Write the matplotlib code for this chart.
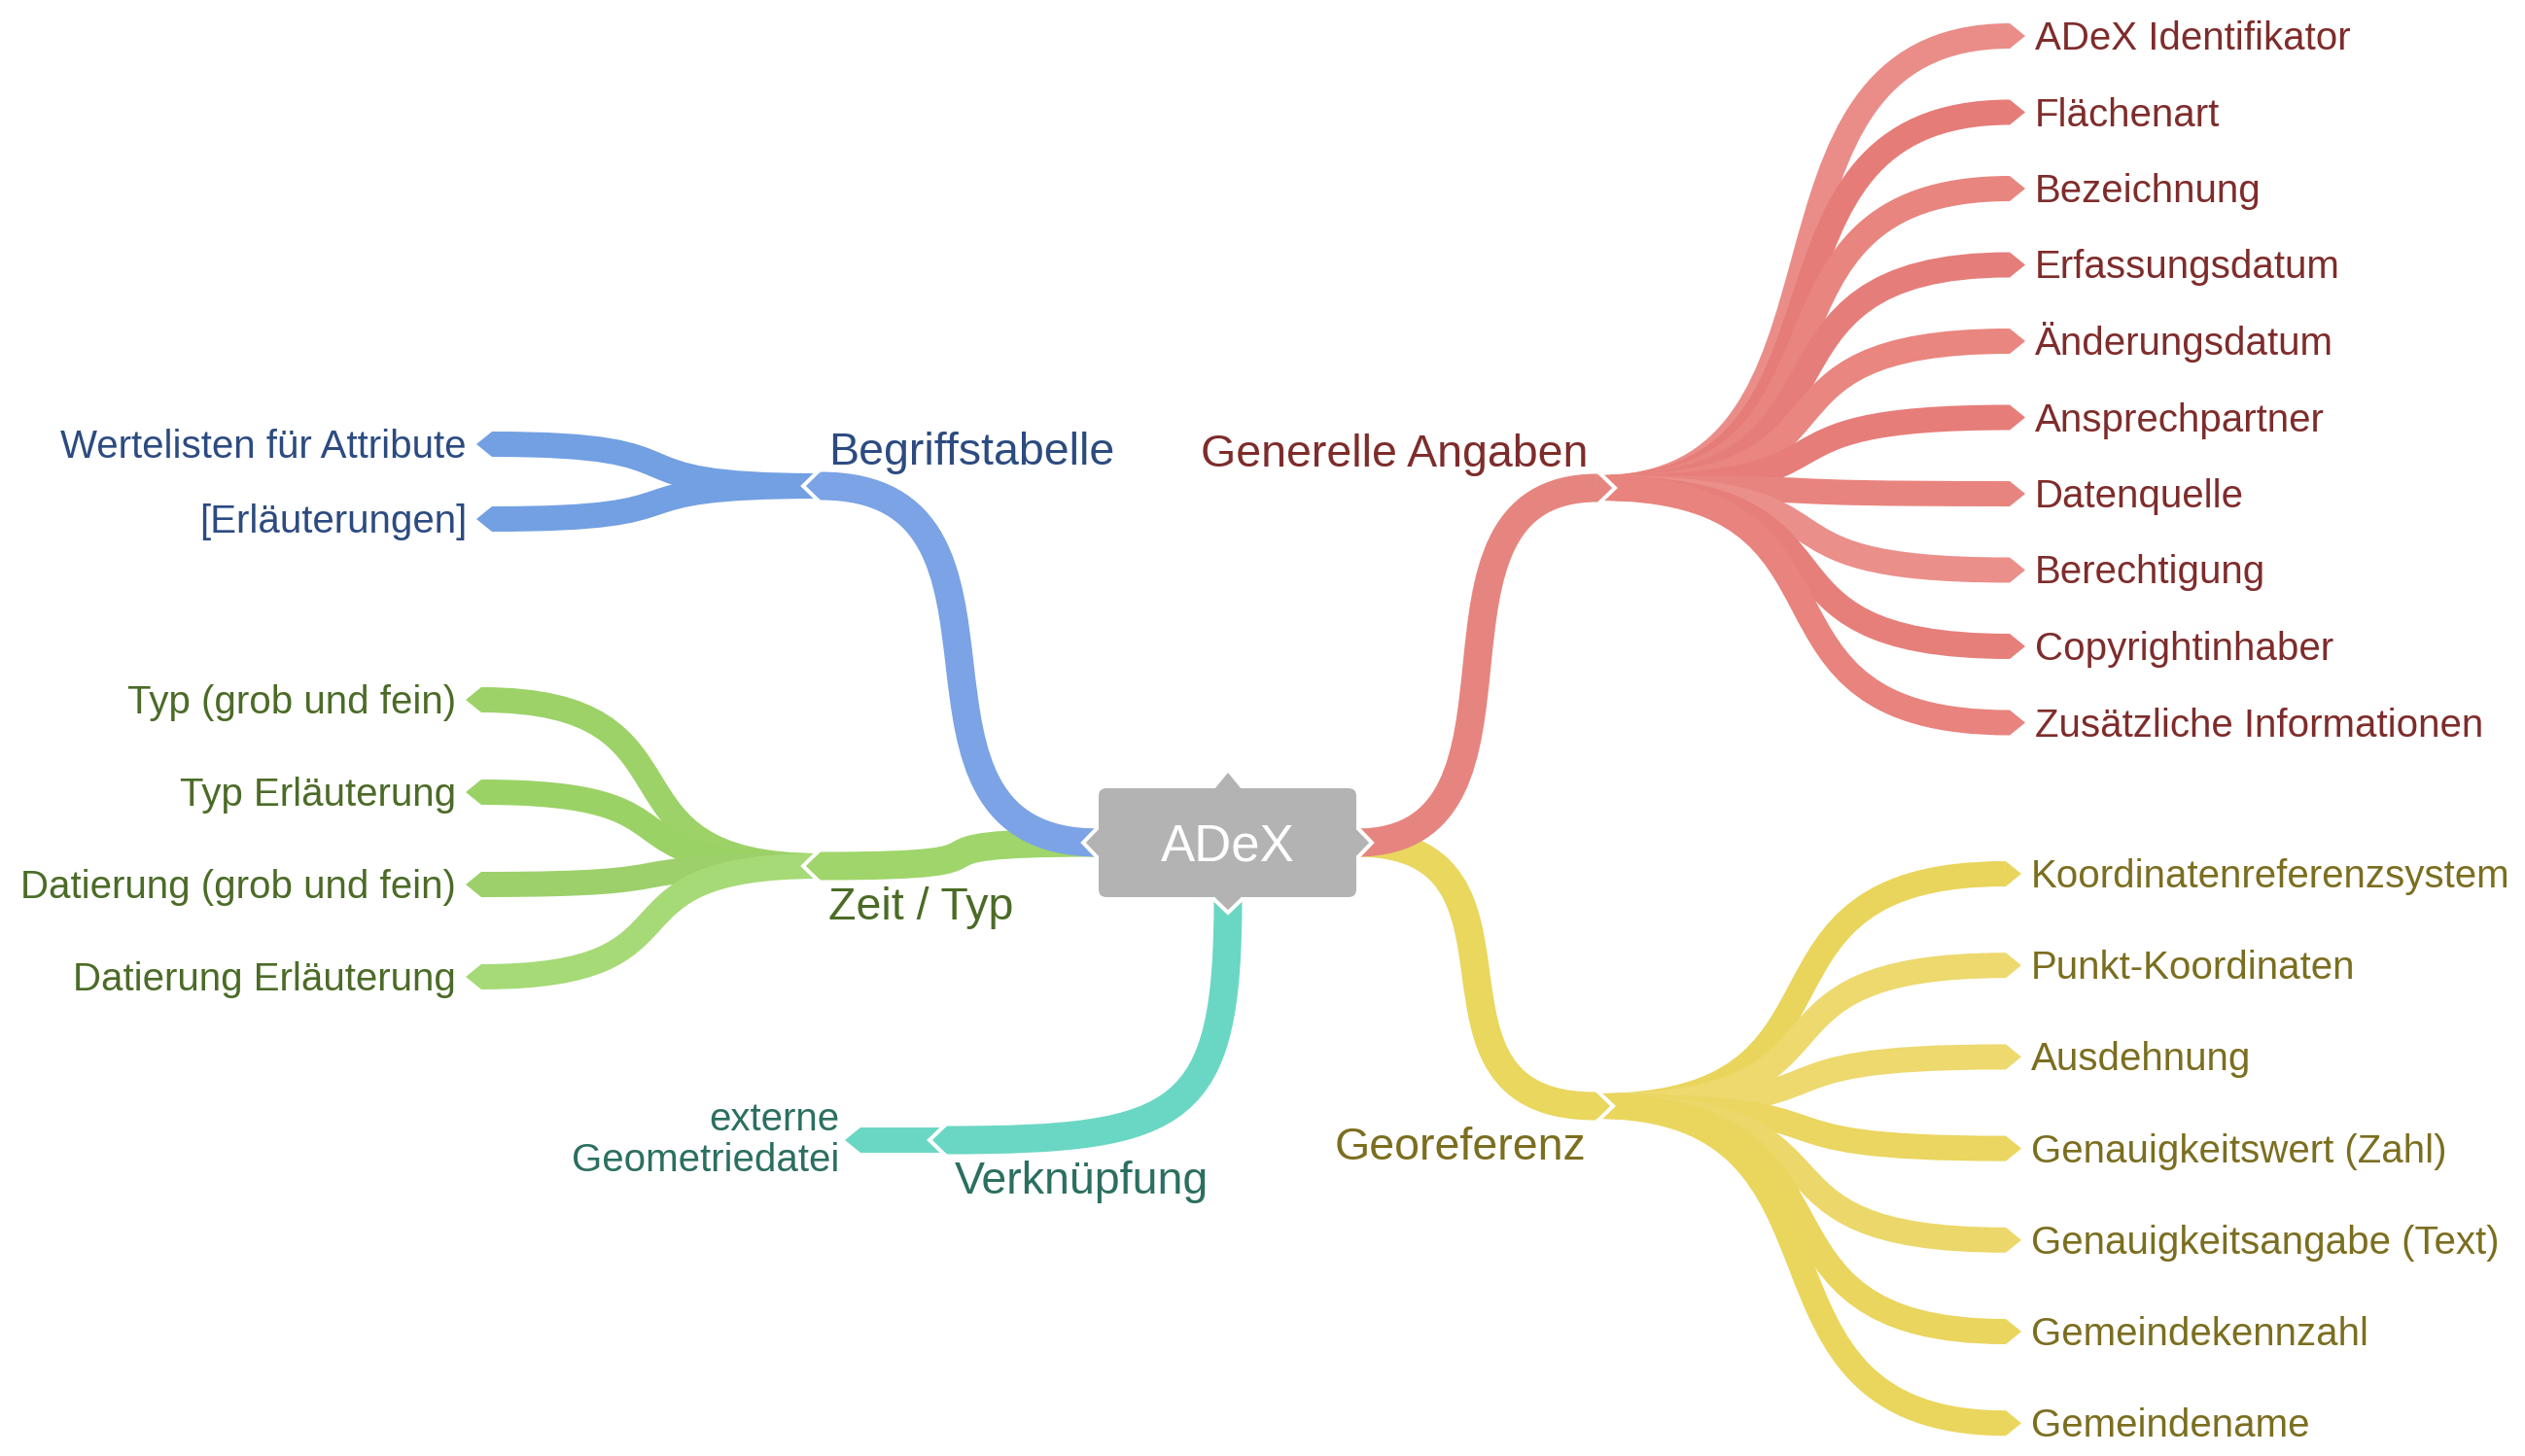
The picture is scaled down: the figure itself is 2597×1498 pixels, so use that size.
import matplotlib
matplotlib.use("Agg")
import matplotlib.pyplot as plt
from matplotlib.path import Path
from matplotlib.patches import PathPatch, Polygon, FancyBboxPatch

# ── data ────────────────────────────────────────────────────────────
root = "ADeX"
branches = ["Generelle Angaben", "Georeferenz", "Begriffstabelle",
            "Zeit / Typ", "Verknüpfung"]
generelle = ["ADeX Identifikator", "Flächenart", "Bezeichnung",
             "Erfassungsdatum", "Änderungsdatum", "Ansprechpartner",
             "Datenquelle", "Berechtigung", "Copyrightinhaber",
             "Zusätzliche Informationen"]
georeferenz = ["Koordinatenreferenzsystem", "Punkt-Koordinaten", "Ausdehnung",
               "Genauigkeitswert (Zahl)", "Genauigkeitsangabe (Text)",
               "Gemeindekennzahl", "Gemeindename"]
begriffe = ["Wertelisten für Attribute", "[Erläuterungen]"]
zeit_typ = ["Typ (grob und fein)", "Typ Erläuterung",
            "Datierung (grob und fein)", "Datierung Erläuterung"]
verknuepfung = ["externe\nGeometriedatei"]
children = [generelle, georeferenz, begriffe, zeit_typ, verknuepfung]

# ── layout / style (pixels, y downwards) ────────────────────────────
W, H, DPI = 2597, 1498, 100
PX = 72 / DPI
FONT = ["Liberation Sans", "DejaVu Sans"]
CX, CY = 1263, 867
BOX = (1130, 811, 1395, 923)
MAIN_W, CHILD_W, NOTCH = 29, 26, 16
K_MAIN, K_CHILD = 0.85, 0.7

layout = {
    "Generelle Angaben": dict(node=(1659, 502), side=1, start="right",
                              tip_x=2083, top=37, step=78.5,
                              main="#e6857f", text="#7e2c2b",
                              kids=["#ea8d89", "#e67c78", "#e8857f", "#e57e7a",
                                    "#e9867f", "#e67d79", "#e8847f", "#eb8f8a",
                                    "#e67f7a", "#e8837e"]),
    "Georeferenz": dict(node=(1657, 1138), side=1, start="right",
                        tip_x=2079, top=899, step=94.2,
                        main="#e9d75e", text="#7b6e1f",
                        kids=["#ead55c", "#edd96e", "#edd96e", "#ead660",
                              "#ecd86a", "#ead55e", "#ead65c"]),
    "Begriffstabelle": dict(node=(828, 500), side=-1, start="left",
                            tip_x=490, top=457, step=77,
                            main="#7ba3e5", text="#2c4b80",
                            kids=["#72a0e2", "#72a0e2"]),
    "Zeit / Typ": dict(node=(828, 891), side=-1, start="left",
                       tip_x=479, top=720, step=95,
                       main="#9fd56a", text="#4b6b27",
                       kids=["#9cd267", "#9bd266", "#9dd06b", "#a6da76"]),
    "Verknüpfung": dict(node=(958, 1173), side=-1, start="bottom",
                        tip_x=869, top=1173, step=0,
                        main="#6ad7c4", text="#2b6f60",
                        kids=["#6ad7c4"]),
}
draw_order = ["Georeferenz", "Generelle Angaben", "Zeit / Typ",
              "Begriffstabelle", "Verknüpfung"]


def stroke(ax, pts, width, color, z):
    codes = [Path.MOVETO, Path.CURVE4, Path.CURVE4, Path.CURVE4]
    ax.add_patch(PathPatch(Path(pts, codes), fill=False, lw=width * PX,
                           edgecolor=color, capstyle="butt", zorder=z))


def s_curve(p0, p3, k):
    (x0, y0), (x3, y3) = p0, p3
    dx = x3 - x0
    return [p0, (x0 + k * dx, y0), (x3 - k * dx, y3), p3]


def arrow_tip(ax, x_base, x_tip, y, width, color, z):
    ax.add_patch(Polygon([(x_base, y - width / 2), (x_tip, y),
                          (x_base, y + width / 2)], closed=True,
                         fc=color, ec="none", zorder=z))


def white_chevron(ax, pts, z):
    xs, ys = zip(*pts)
    ax.plot(xs, ys, color="white", lw=4 * PX, solid_joinstyle="miter",
            solid_capstyle="butt", zorder=z)


fig = plt.figure(figsize=(W / DPI, H / DPI), dpi=DPI)
ax = fig.add_axes([0, 0, 1, 1])
ax.set_xlim(0, W)
ax.set_ylim(H, 0)
ax.axis("off")

z = 1
for name in draw_order:
    lay = layout[name]
    kids = children[branches.index(name)]
    nx, ny = lay["node"]
    s = lay["side"]
    base = nx - s * NOTCH

    # children
    for i, (kid, col) in enumerate(zip(kids, lay["kids"])):
        ky = lay["top"] + i * lay["step"]
        tx = lay["tip_x"]
        end = tx - s * NOTCH
        stroke(ax, s_curve((base, ny), (end, ky), K_CHILD), CHILD_W, col, z)
        arrow_tip(ax, end, tx, ky, CHILD_W, col, z)
        if "\n" in kid:
            ax.text(tx + s * 6, ky, kid, ha="left" if s > 0 else "right",
                    va="center", ma="right", fontsize=29, color=lay["text"],
                    family=FONT, linespacing=1.15, zorder=10)
        else:
            ax.text(tx + s * 10, ky + 14, kid, ha="left" if s > 0 else "right",
                    va="baseline", fontsize=29, color=lay["text"],
                    family=FONT, zorder=10)
    z += 1

    # main branch from the root
    if lay["start"] == "right":
        pts = s_curve((BOX[2], CY), (base, ny), K_MAIN)
    elif lay["start"] == "left":
        pts = s_curve((BOX[0], CY), (base, ny), K_MAIN)
    else:
        y0 = BOX[3]
        pts = [(CX, y0), (CX, y0 + 0.9 * (ny - y0)),
               (CX + 0.15 * (base - CX), ny), (base, ny)]
    stroke(ax, pts, MAIN_W, lay["main"], z)
    arrow_tip(ax, base, nx, ny, MAIN_W, lay["main"], z)
    white_chevron(ax, [(base + s * 2, ny - MAIN_W / 2 - 1), (nx + s * 2, ny),
                       (base + s * 2, ny + MAIN_W / 2 + 1)], z + 0.5)
    z += 1

    # branch label
    if s > 0:
        lx, ha = nx - 26, "right"
    else:
        lx, ha = nx + 24, "left"
    ly = ny - 22 if ny < CY else ny + 55
    ax.text(lx, ly, name, ha=ha, va="baseline", fontsize=33.5,
            color=lay["text"], family=FONT, zorder=10)

# root box
bx0, by0, bx1, by1 = BOX
gray = "#b3b3b3"
ax.add_patch(FancyBboxPatch((bx0, by0), bx1 - bx0, by1 - by0,
                            boxstyle="round,pad=0,rounding_size=8",
                            fc=gray, ec="none", zorder=z))
hw = MAIN_W / 2
ax.add_patch(Polygon([(bx1 - 1, CY - hw), (bx1 + 14, CY), (bx1 - 1, CY + hw)],
                     fc=gray, ec="none", zorder=z))
ax.add_patch(Polygon([(bx0 + 1, CY - hw), (bx0 - 14, CY), (bx0 + 1, CY + hw)],
                     fc=gray, ec="none", zorder=z))
ax.add_patch(Polygon([(CX - hw, by1 - 1), (CX, by1 + 14), (CX + hw, by1 - 1)],
                     fc=gray, ec="none", zorder=z))
ax.add_patch(Polygon([(CX - 14, by0 + 1), (CX, by0 - 16), (CX + 14, by0 + 1)],
                     fc=gray, ec="none", zorder=z))
white_chevron(ax, [(bx1 + 1, CY - hw - 1), (bx1 + 16, CY), (bx1 + 1, CY + hw + 1)], z + 1)
white_chevron(ax, [(bx0 - 1, CY - hw - 1), (bx0 - 16, CY), (bx0 - 1, CY + hw + 1)], z + 1)
white_chevron(ax, [(CX - hw - 1, by1 + 1), (CX, by1 + 16), (CX + hw + 1, by1 + 1)], z + 1)

ax.text(CX, 886, root, ha="center", va="baseline", fontsize=38,
        color="white", family=FONT, zorder=z + 2)

fig.savefig("out.png", dpi=DPI, facecolor="white")
